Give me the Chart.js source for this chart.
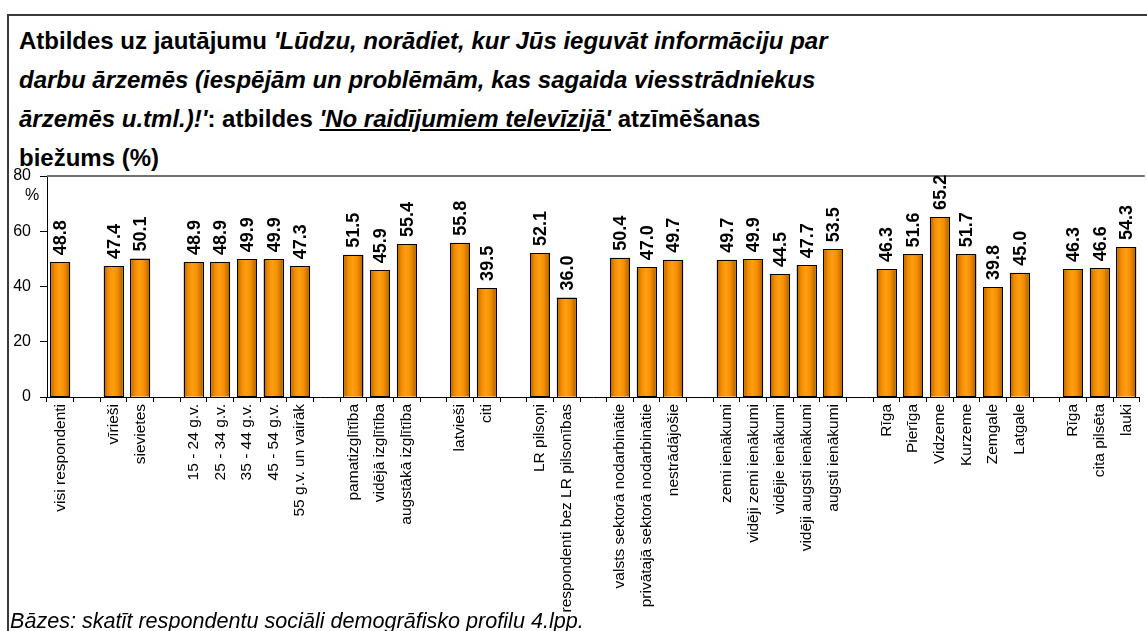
<!DOCTYPE html>
<html>
<head>
<meta charset="utf-8">
<script src="https://cdn.jsdelivr.net/npm/chart.js@4"></script>
<style>
  body { margin: 0; background: #fff; font-family: "Liberation Sans", Arial, sans-serif; }
  #wrap { position: relative; width: 1147px; height: 631px; overflow: hidden; }
  #frame { position: absolute; left: 7px; top: 14px; width: 1160px; height: 640px;
           border-left: 2px solid #3a3a3a; border-top: 2px solid #3a3a3a; }
  #title { position: absolute; left: 19px; top: 21px; font-size: 24px; font-weight: bold;
           line-height: 39px; color: #000; white-space: nowrap; }
  #unit { position: absolute; left: 25px; top: 186px; font-size: 16px; color: #000; }
  #note { position: absolute; left: 10px; top: 608px; font-size: 21.6px; font-style: italic; color: #000; }
  canvas { position: absolute; left: 0; top: 0; }
</style>
</head>
<body>
<div id="wrap">
  <div id="frame"></div>
  <div id="title">Atbildes uz jautājumu <i>'Lūdzu, norādiet, kur Jūs ieguvāt informāciju par<br>darbu ārzemēs (iespējām un problēmām, kas sagaida viesstrādniekus<br>ārzemēs u.tml.)!'</i>: atbildes <i><u>'No raidījumiem televīzijā'</u></i> atzīmēšanas<br>biežums (%)</div>
  <canvas id="chart" width="1147" height="631"></canvas>
  <div id="unit">%</div>
  <div id="note">Bāzes: skatīt respondentu sociāli demogrāfisko profilu 4.lpp.</div>
</div>
<script>
// empty strings / nulls are the spacer slots between groups
const CATEGORIES = [
  "visi respondenti", "",
  "vīrieši", "sievietes", "",
  "15 - 24 g.v.", "25 - 34 g.v.", "35 - 44 g.v.", "45 - 54 g.v.", "55 g.v. un vairāk", "",
  "pamatizglītība", "vidējā izglītība", "augstākā izglītība", "",
  "latvieši", "citi", "",
  "LR pilsoņi", "respondenti bez LR pilsonības", "",
  "valsts sektorā nodarbinātie", "privātajā sektorā nodarbinātie", "nestrādājošie", "",
  "zemi ienākumi", "vidēji zemi ienākumi", "vidējie ienākumi", "vidēji augsti ienākumi", "augsti ienākumi", "",
  "Rīga", "Pierīga", "Vidzeme", "Kurzeme", "Zemgale", "Latgale", "",
  "Rīga", "cita pilsēta", "lauki",
];

const VALUES = [
  48.8, null,
  47.4, 50.1, null,
  48.9, 48.9, 49.9, 49.9, 47.3, null,
  51.5, 45.9, 55.4, null,
  55.8, 39.5, null,
  52.1, 36.0, null,
  50.4, 47.0, 49.7, null,
  49.7, 49.9, 44.5, 47.7, 53.5, null,
  46.3, 51.6, 65.2, 51.7, 39.8, 45.0, null,
  46.3, 46.6, 54.3,
];

const Y_TICKS = [0, 20, 40, 60, 80];

const FONT = "'Liberation Sans', Arial, sans-serif";

// shading inside each bar, like the old office 3d-ish bars
const barShade = {
  id: "barShade",
  afterDatasetsDraw(chart) {
    const ctx = chart.ctx;
    chart.getDatasetMeta(0).data.forEach((bar, i) => {
      if (VALUES[i] == null) return;
      const p = bar.getProps(["x", "y", "base", "width"], true);
      const l = p.x - p.width / 2 + 1, r = p.x + p.width / 2 - 1;
      const g = ctx.createLinearGradient(l, 0, r, 0);
      g.addColorStop(0, "#c06a00");
      g.addColorStop(0.2, "#f08c00");
      g.addColorStop(0.45, "#ff9e14");
      g.addColorStop(0.7, "#f59000");
      g.addColorStop(1, "#b86400");
      ctx.save();
      ctx.fillStyle = g;
      ctx.fillRect(l, p.y + 1, r - l, p.base - p.y - 1);
      ctx.strokeStyle = "#000";
      ctx.lineWidth = 1;
      ctx.strokeRect(Math.round(l - 1) + 0.5, Math.round(p.y) + 0.5, Math.round(r - l + 1), Math.round(p.base - p.y));
      ctx.restore();
    });
  },
};

const valueLabels = {
  id: "valueLabels",
  afterDatasetsDraw(chart) {
    const ctx = chart.ctx;
    ctx.save();
    ctx.font = "bold 18px " + FONT;
    ctx.fillStyle = "#000";
    ctx.textAlign = "left";
    ctx.textBaseline = "middle";
    chart.getDatasetMeta(0).data.forEach((bar, i) => {
      if (VALUES[i] == null) return;
      ctx.save();
      ctx.translate(bar.x + 1, bar.y - 7);
      ctx.rotate(-Math.PI / 2);
      ctx.fillText(VALUES[i].toFixed(1), 0, 0);
      ctx.restore();
    });
    ctx.restore();
  },
};

const plotTop = {
  id: "plotTop",
  beforeDatasetsDraw(chart) {
    const { ctx, chartArea } = chart;
    ctx.save();
    ctx.strokeStyle = "#707070";
    ctx.lineWidth = 2;
    ctx.beginPath();
    ctx.moveTo(chartArea.left, chartArea.top);
    ctx.lineTo(chartArea.right + 5, chartArea.top);
    ctx.stroke();
    ctx.restore();
  },
};

const config = {
  type: "bar",
  data: {
    labels: CATEGORIES,
    datasets: [
      {
        data: VALUES,
        backgroundColor: "#ff9900",
        borderColor: "#000",
        borderWidth: 1,
        barPercentage: 0.75,
        categoryPercentage: 1,
      },
    ],
  },
  options: {
    responsive: false,
    animation: false,
    events: [],
    layout: { padding: { top: 176, right: 1, left: 0, bottom: 0 } },
    plugins: {
      legend: { display: false },
      title: { display: false },
      tooltip: { enabled: false },
    },
    scales: {
      x: {
        offset: true,
        afterFit(scale) { scale.height = 234; },
        grid: { offset: true, drawOnChartArea: false, drawTicks: true, tickLength: 5, color: "#000" },
        border: { display: true, color: "#000", width: 1 },
        ticks: {
          autoSkip: false,
          maxRotation: 90,
          minRotation: 90,
          padding: 2,
          color: "#000",
          font: { family: FONT, size: 15.5 },
        },
      },
      y: {
        min: 0,
        max: 80,
        afterFit(scale) { scale.width = 47; },
        afterBuildTicks(scale) { scale.ticks = Y_TICKS.map((v) => ({ value: v })); },
        grid: { drawOnChartArea: false, drawTicks: true, tickLength: 7, color: "#000" },
        border: { display: true, color: "#000", width: 1 },
        ticks: {
          padding: 9,
          color: "#000",
          font: { family: FONT, size: 16 },
        },
      },
    },
  },
  plugins: [plotTop, barShade, valueLabels],
};

const ctx = document.getElementById("chart").getContext("2d");

new Chart(ctx, config);
</script>
</body>
</html>
